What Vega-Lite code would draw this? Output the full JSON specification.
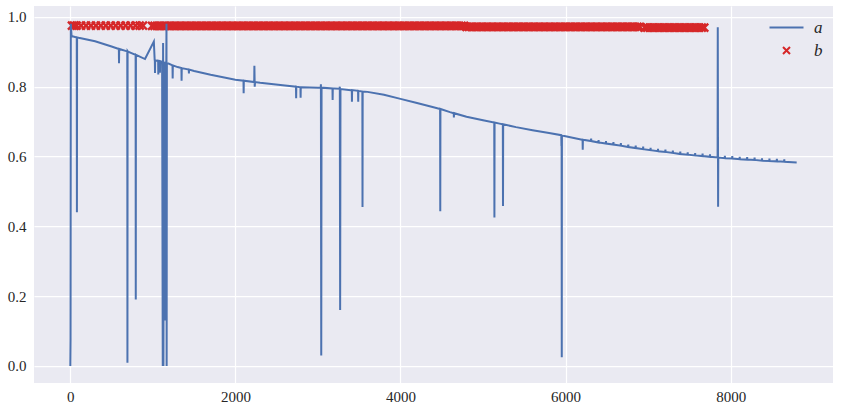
{
  "$schema": "https://vega.github.io/schema/vega-lite/v6.json",
  "width": 799,
  "height": 377,
  "autosize": {"type": "none"},
  "padding": {"left": 34, "top": 6, "right": 10, "bottom": 28},
  "background": "white",
  "config": {
    "view": {"fill": "#EAEAF2", "stroke": null},
    "axis": {"grid": true, "gridColor": "white", "gridWidth": 1.25, "domain": false, "ticks": false, "labelFont": "Liberation Serif", "labelFontSize": 15, "labelColor": "#262626"}
  },
  "datasets": {
    "a": [
      {"x":0,"y":0.0},{"x":3,"y":0.08},{"x":6,"y":0.98},{"x":15,"y":0.945},{"x":78,"y":0.941},{"x":80,"y":0.44},{"x":82,"y":0.941},{"x":100,"y":0.940},{"x":300,"y":0.930},{"x":500,"y":0.915},{"x":588,"y":0.908},{"x":590,"y":0.867},{"x":592,"y":0.908},{"x":690,"y":0.901},{"x":692,"y":0.009},{"x":694,"y":0.902},{"x":700,"y":0.900},{"x":791,"y":0.891},{"x":793,"y":0.19},{"x":795,"y":0.891},{"x":905,"y":0.879},{"x":1012,"y":0.929},{"x":1022,"y":0.876},{"x":1024,"y":0.875},{"x":1026,"y":0.839},{"x":1028,"y":0.875},{"x":1064,"y":0.874},{"x":1066,"y":0.835},{"x":1068,"y":0.874},{"x":1084,"y":0.873},{"x":1086,"y":0.84},{"x":1088,"y":0.873},{"x":1100,"y":0.872},{"x":1112,"y":0.871},{"x":1120,"y":0.0},{"x":1124,"y":0.925},{"x":1128,"y":0.0},{"x":1134,"y":0.869},{"x":1148,"y":0.868},{"x":1150,"y":0.13},{"x":1152,"y":0.868},{"x":1163,"y":0.867},{"x":1165,"y":0.98},{"x":1167,"y":0.0},{"x":1170,"y":0.866},{"x":1190,"y":0.866},{"x":1238,"y":0.861},{"x":1240,"y":0.823},{"x":1242,"y":0.861},{"x":1300,"y":0.856},{"x":1346,"y":0.853},{"x":1348,"y":0.817},{"x":1350,"y":0.853},{"x":1435,"y":0.849},{"x":1437,"y":0.838},{"x":1439,"y":0.849},{"x":1500,"y":0.845},{"x":1700,"y":0.834},{"x":2000,"y":0.820},{"x":2098,"y":0.817},{"x":2100,"y":0.781},{"x":2102,"y":0.817},{"x":2228,"y":0.813},{"x":2230,"y":0.86},{"x":2234,"y":0.80},{"x":2238,"y":0.813},{"x":2300,"y":0.811},{"x":2600,"y":0.803},{"x":2734,"y":0.800},{"x":2736,"y":0.767},{"x":2738,"y":0.800},{"x":2788,"y":0.798},{"x":2790,"y":0.768},{"x":2792,"y":0.798},{"x":2800,"y":0.798},{"x":3000,"y":0.797},{"x":3034,"y":0.797},{"x":3036,"y":0.807},{"x":3040,"y":0.03},{"x":3044,"y":0.797},{"x":3176,"y":0.795},{"x":3178,"y":0.762},{"x":3180,"y":0.795},{"x":3200,"y":0.795},{"x":3263,"y":0.794},{"x":3265,"y":0.80},{"x":3269,"y":0.16},{"x":3273,"y":0.793},{"x":3400,"y":0.790},{"x":3410,"y":0.790},{"x":3412,"y":0.757},{"x":3414,"y":0.790},{"x":3486,"y":0.788},{"x":3488,"y":0.757},{"x":3490,"y":0.788},{"x":3538,"y":0.786},{"x":3540,"y":0.455},{"x":3542,"y":0.786},{"x":3600,"y":0.785},{"x":3800,"y":0.777},{"x":4000,"y":0.765},{"x":4200,"y":0.753},{"x":4400,"y":0.741},{"x":4480,"y":0.736},{"x":4482,"y":0.443},{"x":4484,"y":0.736},{"x":4600,"y":0.727},{"x":4645,"y":0.724},{"x":4647,"y":0.712},{"x":4649,"y":0.724},{"x":4800,"y":0.714},{"x":5000,"y":0.704},{"x":5136,"y":0.697},{"x":5138,"y":0.425},{"x":5140,"y":0.697},{"x":5200,"y":0.694},{"x":5240,"y":0.692},{"x":5242,"y":0.458},{"x":5244,"y":0.692},{"x":5400,"y":0.684},{"x":5600,"y":0.675},{"x":5800,"y":0.667},{"x":5948,"y":0.661},{"x":5950,"y":0.63},{"x":5952,"y":0.661},{"x":5954,"y":0.025},{"x":5956,"y":0.660},{"x":6000,"y":0.658},{"x":6200,"y":0.648},{"x":6206,"y":0.648},{"x":6208,"y":0.619},{"x":6210,"y":0.648},
      {"x":6308,"y":0.644},{"x":6310,"y":0.651},{"x":6312,"y":0.644},
      {"x":6398,"y":0.640},{"x":6400,"y":0.647},{"x":6402,"y":0.640},
      {"x":6488,"y":0.637},{"x":6490,"y":0.644},{"x":6492,"y":0.637},
      {"x":6578,"y":0.634},{"x":6580,"y":0.641},{"x":6582,"y":0.634},
      {"x":6668,"y":0.631},{"x":6670,"y":0.638},{"x":6672,"y":0.631},
      {"x":6758,"y":0.627},{"x":6760,"y":0.634},{"x":6762,"y":0.627},
      {"x":6848,"y":0.624},{"x":6850,"y":0.631},{"x":6852,"y":0.624},
      {"x":6938,"y":0.621},{"x":6940,"y":0.628},{"x":6942,"y":0.621},
      {"x":7028,"y":0.618},{"x":7030,"y":0.625},{"x":7032,"y":0.618},
      {"x":7118,"y":0.615},{"x":7120,"y":0.622},{"x":7122,"y":0.615},
      {"x":7208,"y":0.613},{"x":7210,"y":0.620},{"x":7212,"y":0.613},
      {"x":7298,"y":0.610},{"x":7300,"y":0.617},{"x":7302,"y":0.610},
      {"x":7388,"y":0.607},{"x":7390,"y":0.614},{"x":7392,"y":0.607},
      {"x":7478,"y":0.605},{"x":7480,"y":0.612},{"x":7482,"y":0.605},
      {"x":7568,"y":0.603},{"x":7570,"y":0.610},{"x":7572,"y":0.603},
      {"x":7658,"y":0.601},{"x":7660,"y":0.608},{"x":7662,"y":0.601},
      {"x":7748,"y":0.599},{"x":7750,"y":0.606},{"x":7752,"y":0.599},
      {"x":7842,"y":0.597},{"x":7844,"y":0.97},{"x":7848,"y":0.456},{"x":7850,"y":0.597},
      {"x":7928,"y":0.595},{"x":7930,"y":0.602},{"x":7932,"y":0.595},
      {"x":8018,"y":0.594},{"x":8020,"y":0.601},{"x":8022,"y":0.594},
      {"x":8108,"y":0.592},{"x":8110,"y":0.599},{"x":8112,"y":0.592},
      {"x":8198,"y":0.591},{"x":8200,"y":0.598},{"x":8202,"y":0.591},
      {"x":8288,"y":0.590},{"x":8290,"y":0.597},{"x":8292,"y":0.590},
      {"x":8378,"y":0.588},{"x":8380,"y":0.595},{"x":8382,"y":0.588},
      {"x":8468,"y":0.587},{"x":8470,"y":0.594},{"x":8472,"y":0.587},
      {"x":8558,"y":0.586},{"x":8560,"y":0.593},{"x":8562,"y":0.586},
      {"x":8648,"y":0.585},{"x":8650,"y":0.592},{"x":8652,"y":0.585},
      {"x":8800,"y":0.583}
    ],
    "b": [
      {"x":20,"y":0.975},{"x":45,"y":0.975},{"x":75,"y":0.975},{"x":130,"y":0.975},{"x":190,"y":0.975},{"x":250,"y":0.975},{"x":310,"y":0.975},{"x":370,"y":0.975},{"x":430,"y":0.975},{"x":490,"y":0.975},{"x":550,"y":0.975},{"x":610,"y":0.975},{"x":670,"y":0.975},{"x":730,"y":0.975},{"x":790,"y":0.975},{"x":840,"y":0.975},{"x":880,"y":0.975},
      {"x":990,"y":0.974},{"x":1020,"y":0.974},{"x":1050,"y":0.974},{"x":1080,"y":0.974},{"x":1110,"y":0.974},{"x":1140,"y":0.974},{"x":1170,"y":0.974},{"x":1200,"y":0.974},{"x":1230,"y":0.974},{"x":1260,"y":0.974},{"x":1290,"y":0.974},{"x":1320,"y":0.974},{"x":1350,"y":0.974},{"x":1380,"y":0.974},{"x":1410,"y":0.974},{"x":1440,"y":0.974},{"x":1470,"y":0.974},{"x":1500,"y":0.974},{"x":1530,"y":0.974},{"x":1560,"y":0.974},{"x":1590,"y":0.974},{"x":1620,"y":0.974},{"x":1650,"y":0.974},{"x":1680,"y":0.974},{"x":1710,"y":0.974},{"x":1740,"y":0.974},{"x":1770,"y":0.974},{"x":1800,"y":0.974},{"x":1830,"y":0.974},{"x":1860,"y":0.974},{"x":1890,"y":0.974},{"x":1920,"y":0.974},{"x":1950,"y":0.974},{"x":1980,"y":0.974},{"x":2010,"y":0.974},{"x":2040,"y":0.974},{"x":2070,"y":0.974},{"x":2100,"y":0.974},{"x":2130,"y":0.974},{"x":2160,"y":0.974},{"x":2190,"y":0.974},{"x":2220,"y":0.974},{"x":2250,"y":0.974},{"x":2280,"y":0.974},{"x":2310,"y":0.974},{"x":2340,"y":0.974},{"x":2370,"y":0.974},{"x":2400,"y":0.974},{"x":2430,"y":0.974},{"x":2460,"y":0.974},{"x":2490,"y":0.974},{"x":2520,"y":0.974},{"x":2550,"y":0.974},{"x":2580,"y":0.974},{"x":2610,"y":0.974},{"x":2640,"y":0.974},{"x":2670,"y":0.974},{"x":2700,"y":0.974},{"x":2730,"y":0.974},{"x":2760,"y":0.974},{"x":2790,"y":0.974},{"x":2820,"y":0.974},{"x":2850,"y":0.974},{"x":2880,"y":0.974},{"x":2910,"y":0.974},{"x":2940,"y":0.974},{"x":2970,"y":0.974},{"x":3000,"y":0.974},{"x":3030,"y":0.974},{"x":3060,"y":0.974},{"x":3090,"y":0.974},{"x":3120,"y":0.974},{"x":3150,"y":0.974},{"x":3180,"y":0.974},{"x":3210,"y":0.974},{"x":3240,"y":0.974},{"x":3270,"y":0.974},{"x":3300,"y":0.974},{"x":3330,"y":0.974},{"x":3360,"y":0.974},{"x":3390,"y":0.974},{"x":3420,"y":0.974},{"x":3450,"y":0.974},{"x":3480,"y":0.974},{"x":3510,"y":0.974},{"x":3540,"y":0.974},{"x":3570,"y":0.974},{"x":3600,"y":0.974},{"x":3630,"y":0.974},{"x":3660,"y":0.974},{"x":3690,"y":0.974},{"x":3720,"y":0.974},{"x":3750,"y":0.974},{"x":3780,"y":0.974},{"x":3810,"y":0.974},{"x":3840,"y":0.974},{"x":3870,"y":0.974},{"x":3900,"y":0.974},{"x":3930,"y":0.974},{"x":3960,"y":0.974},{"x":3990,"y":0.974},{"x":4020,"y":0.974},{"x":4050,"y":0.974},{"x":4080,"y":0.974},{"x":4110,"y":0.974},{"x":4140,"y":0.974},{"x":4170,"y":0.974},{"x":4200,"y":0.974},{"x":4230,"y":0.974},{"x":4260,"y":0.974},{"x":4290,"y":0.974},{"x":4320,"y":0.974},{"x":4350,"y":0.974},{"x":4380,"y":0.974},{"x":4410,"y":0.974},{"x":4440,"y":0.974},{"x":4470,"y":0.974},{"x":4500,"y":0.974},{"x":4530,"y":0.974},{"x":4560,"y":0.974},{"x":4590,"y":0.974},{"x":4620,"y":0.974},{"x":4650,"y":0.974},{"x":4680,"y":0.974},{"x":4710,"y":0.974},{"x":4740,"y":0.974},{"x":4770,"y":0.974},
      {"x":4800,"y":0.971},{"x":4830,"y":0.971},{"x":4860,"y":0.971},{"x":4890,"y":0.971},{"x":4920,"y":0.971},{"x":4950,"y":0.971},{"x":4980,"y":0.971},{"x":5010,"y":0.971},{"x":5040,"y":0.971},{"x":5070,"y":0.971},{"x":5100,"y":0.971},{"x":5130,"y":0.971},{"x":5160,"y":0.971},{"x":5190,"y":0.971},{"x":5220,"y":0.971},{"x":5250,"y":0.971},{"x":5280,"y":0.971},{"x":5310,"y":0.971},{"x":5340,"y":0.971},{"x":5370,"y":0.971},{"x":5400,"y":0.971},{"x":5430,"y":0.971},{"x":5460,"y":0.971},{"x":5490,"y":0.971},{"x":5520,"y":0.971},{"x":5550,"y":0.971},{"x":5580,"y":0.971},{"x":5610,"y":0.971},{"x":5640,"y":0.971},{"x":5670,"y":0.971},{"x":5700,"y":0.971},{"x":5730,"y":0.971},{"x":5760,"y":0.971},{"x":5790,"y":0.971},{"x":5820,"y":0.971},{"x":5850,"y":0.971},{"x":5880,"y":0.971},{"x":5910,"y":0.971},{"x":5940,"y":0.971},{"x":5970,"y":0.971},{"x":6000,"y":0.971},{"x":6030,"y":0.971},{"x":6060,"y":0.971},{"x":6090,"y":0.971},{"x":6120,"y":0.971},{"x":6150,"y":0.971},{"x":6180,"y":0.971},{"x":6210,"y":0.971},{"x":6240,"y":0.971},{"x":6270,"y":0.971},{"x":6300,"y":0.971},{"x":6330,"y":0.971},{"x":6360,"y":0.971},{"x":6390,"y":0.971},{"x":6420,"y":0.971},{"x":6450,"y":0.971},{"x":6480,"y":0.971},{"x":6510,"y":0.971},{"x":6540,"y":0.971},{"x":6570,"y":0.971},{"x":6600,"y":0.971},{"x":6630,"y":0.971},{"x":6660,"y":0.971},{"x":6690,"y":0.971},{"x":6720,"y":0.971},{"x":6750,"y":0.971},{"x":6780,"y":0.971},{"x":6810,"y":0.971},{"x":6840,"y":0.971},{"x":6870,"y":0.971},{"x":6900,"y":0.971},
      {"x":6960,"y":0.969},{"x":6990,"y":0.969},{"x":7020,"y":0.969},{"x":7050,"y":0.969},{"x":7080,"y":0.969},{"x":7110,"y":0.969},{"x":7140,"y":0.969},{"x":7170,"y":0.969},{"x":7200,"y":0.969},{"x":7230,"y":0.969},{"x":7260,"y":0.969},{"x":7290,"y":0.969},{"x":7320,"y":0.969},{"x":7350,"y":0.969},{"x":7380,"y":0.969},{"x":7410,"y":0.969},{"x":7440,"y":0.969},{"x":7470,"y":0.969},{"x":7500,"y":0.969},{"x":7530,"y":0.969},{"x":7560,"y":0.969},{"x":7590,"y":0.969},{"x":7620,"y":0.969},{"x":7650,"y":0.969},{"x":7680,"y":0.969}
    ]
  },
  "encoding": {
    "x": {"field": "x", "type": "quantitative", "title": null, "scale": {"domain": [-440, 9240], "nice": false, "zero": false}, "axis": {"values": [0, 2000, 4000, 6000, 8000], "format": "d", "labelPadding": 6}},
    "y": {"field": "y", "type": "quantitative", "title": null, "scale": {"domain": [-0.049, 1.031], "nice": false, "zero": false}, "axis": {"values": [0, 0.2, 0.4, 0.6, 0.8, 1.0], "format": ".1f", "labelPadding": 8}}
  },
  "layer": [
    {
      "data": {"name": "b"},
      "mark": {"type": "point", "shape": "M-1,-1L1,1M-1,1L1,-1", "filled": false, "size": 64, "strokeWidth": 2.4, "opacity": 1},
      "encoding": {"color": {"datum": "b"}}
    },
    {
      "data": {"name": "a"},
      "mark": {"type": "line", "strokeWidth": 2, "clip": true},
      "encoding": {
        "color": {
          "datum": "a",
          "scale": {"domain": ["a", "b"], "range": ["#4C72B0", "#D62728"]},
          "legend": {
            "title": null,
            "orient": "none",
            "legendX": 744,
            "legendY": 13,
            "symbolSize": 1156,
            "labelFont": "Liberation Serif",
            "labelFontStyle": "italic",
            "labelFontSize": 17,
            "labelColor": "#262626",
            "labelOffset": 19,
            "rowPadding": 5,
            "padding": 0,
            "encode": {
              "symbols": {
                "update": {
                  "shape": {"signal": "datum.value === 'a' ? 'stroke' : 'M-1,-1L1,1M-1,1L1,-1'"},
                  "size": {"signal": "datum.value === 'a' ? 1156 : 49"},
                  "stroke": {"signal": "datum.value === 'a' ? '#4C72B0' : '#D62728'"},
                  "fill": {"value": "transparent"},
                  "strokeWidth": {"signal": "datum.value === 'a' ? 2 : 2"},
                  "opacity": {"value": 1}
                }
              }
            }
          }
        }
      }
    }
  ]
}
